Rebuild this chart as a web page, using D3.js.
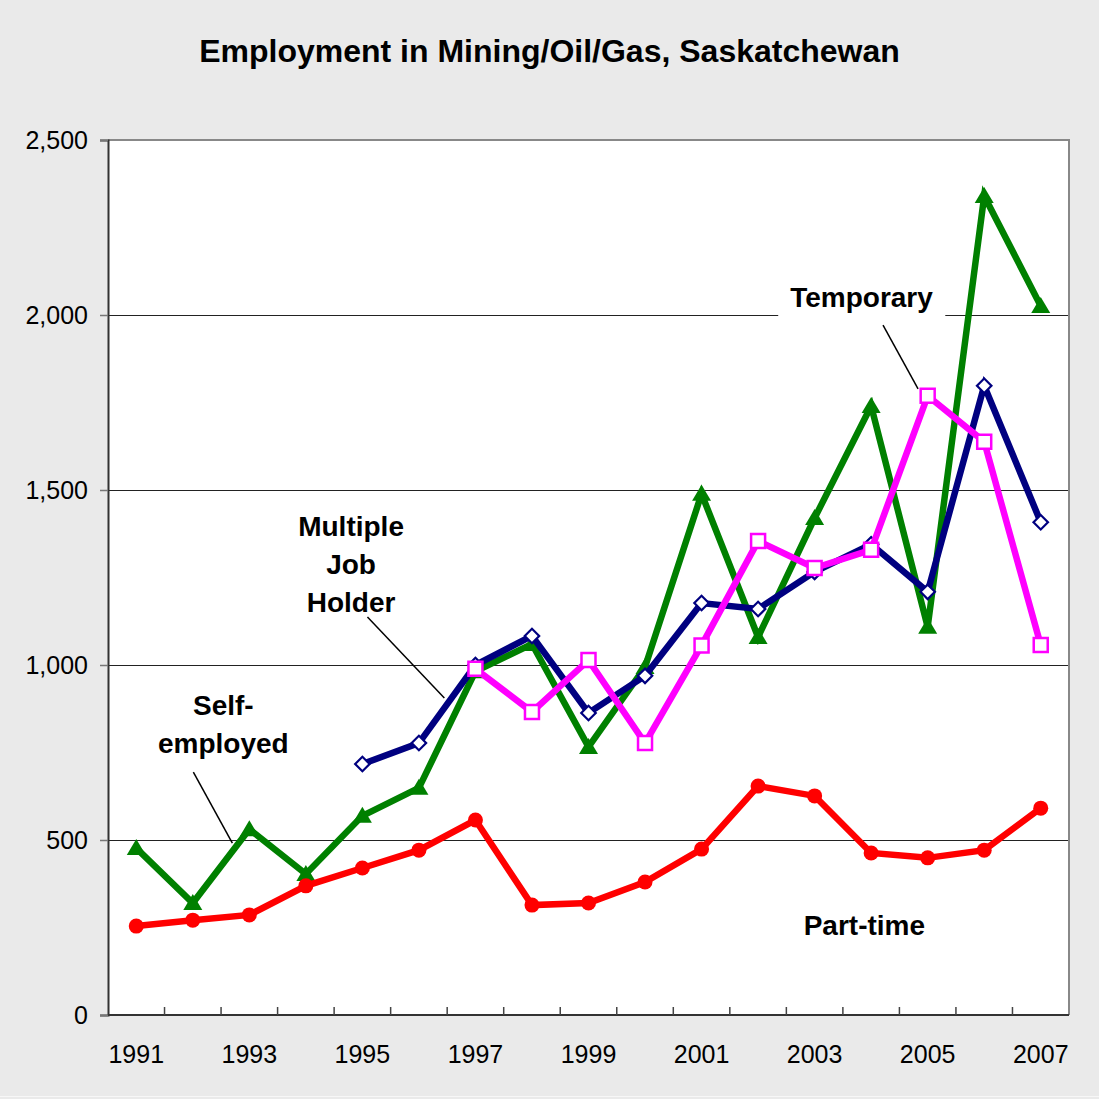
<!DOCTYPE html>
<html>
<head>
<meta charset="utf-8">
<script src="https://cdn.jsdelivr.net/npm/d3@7"></script>
<style>
  html, body { margin: 0; padding: 0; background: #eaeaea; }
  svg { display: block; font-family: "Liberation Sans", Arial, sans-serif; }
</style>
</head>
<body>
<div id="chart"></div>
<script>
// Data
const years = ["1991", "1992", "1993", "1994", "1995", "1996", "1997", "1998", "1999",
  "2000", "2001", "2002", "2003", "2004", "2005", "2006", "2007"]
const yTicks = [0, 500, 1000, 1500, 2000, 2500]

const partTime = [254, 271, 286, 369, 420, 471, 557, 314, 320, 380, 474, 654, 626, 463, 449, 471, 591]
const selfEmployed = [477, 320, 531, 403, 569, 649, 982, 1060, 766, 994, 1489, 1080, 1420, 1740, 1109, 2340, 2026]
const multipleJob = [null, null, null, null, 717, 777, 1000, 1083, 863, 969, 1177, 1160, 1266, 1345, 1209, 1798, 1408]
const temporary = [null, null, null, null, null, null, 989, 866, 1014, 777, 1056, 1354, 1277, 1329, 1769, 1638, 1057]

const W = 1099, H = 1099
const margin = { top: 140, right: 30, bottom: 84, left: 108 }
const width = 1069 - margin.left
const height = 1015 - margin.top

const svg = d3.select("#chart")
  .append("svg")
  .attr("width", W)
  .attr("height", H)

svg.append("rect")
  .attr("width", W)
  .attr("height", H)
  .style("fill", "#eaeaea")

svg.append("line")
  .attr("x1", 0).attr("x2", W)
  .attr("y1", H - 2.5).attr("y2", H - 2.5)
  .style("stroke", "#f7f7f7")
  .style("stroke-width", 1)

// Title
svg.append("text")
  .attr("x", W / 2)
  .attr("y", 62)
  .attr("text-anchor", "middle")
  .style("font-size", "32px")
  .style("font-weight", "bold")
  .style("fill", "#000")
  .text("Employment in Mining/Oil/Gas, Saskatchewan")

const g = svg.append("g")
  .attr("transform", `translate(${margin.left},${margin.top})`)

// Plot area
g.append("rect")
  .attr("width", width)
  .attr("height", height)
  .style("fill", "#fff")

const x = d3.scaleBand()
  .domain(years)
  .range([0, width])

const y = d3.scaleLinear()
  .domain([0, 2500])
  .range([height, 0])

// fractional category position, for annotations
const xi = d3.scaleLinear()
  .domain([0, years.length - 1])
  .range([x(years[0]) + x.bandwidth() / 2, x(years[years.length - 1]) + x.bandwidth() / 2])

// Grid lines
g.append("g")
  .selectAll("line")
  .data(yTicks.filter(d => d > 0 && d < 2500))
  .enter()
  .append("line")
  .attr("x1", 0)
  .attr("x2", width)
  .attr("y1", d => y(d) + 0.5)
  .attr("y2", d => y(d) + 0.5)
  .style("stroke", "#222")
  .style("stroke-width", 1)

// Top and right border
g.append("path")
  .attr("d", `M0,0H${width}V${height}`)
  .style("fill", "none")
  .style("stroke", "#888")
  .style("stroke-width", 2)

// Y axis
const yAxis = g.append("g")
  .call(d3.axisLeft(y).tickValues(yTicks).tickSize(8).tickPadding(12).tickFormat(d3.format(",")))
yAxis.select(".domain").style("stroke", "#333").style("stroke-width", 2)
yAxis.selectAll(".tick line").style("stroke", "#777").style("stroke-width", 1.5)
yAxis.selectAll("text")
  .style("font-size", "25px")
  .style("font-family", "'Liberation Sans', Arial, sans-serif")
  .style("fill", "#000")

// X axis
g.append("line")
  .attr("x1", 0).attr("x2", width)
  .attr("y1", height).attr("y2", height)
  .style("stroke", "#333")
  .style("stroke-width", 2)

g.append("g")
  .selectAll("line")
  .data(years.slice(1))
  .enter()
  .append("line")
  .attr("x1", d => x(d))
  .attr("x2", d => x(d))
  .attr("y1", height)
  .attr("y2", height - 8)
  .style("stroke", "#444")
  .style("stroke-width", 1.5)

g.append("g")
  .selectAll("text")
  .data(years.filter((d, i) => i % 2 === 0))
  .enter()
  .append("text")
  .attr("x", d => x(d) + x.bandwidth() / 2)
  .attr("y", height + 48)
  .attr("text-anchor", "middle")
  .style("font-size", "25px")
  .style("fill", "#000")
  .text(d => d)

// Series
const series = [
  { name: "Self-employed", values: selfEmployed, color: "#008000", marker: "triangle" },
  { name: "Multiple Job Holder", values: multipleJob, color: "#000080", marker: "diamond" },
  { name: "Temporary", values: temporary, color: "#ff00ff", marker: "square" },
  { name: "Part-time", values: partTime, color: "#ff0000", marker: "circle" }
]

const line = d3.line()
  .defined(d => d.v != null)
  .x(d => x(d.year) + x.bandwidth() / 2)
  .y(d => y(d.v))

series.forEach(s => {
  const pts = years.map((yr, i) => ({ year: yr, v: s.values[i] }))
  const sg = g.append("g").attr("class", "series")

  sg.append("path")
    .datum(pts)
    .attr("d", line)
    .style("fill", "none")
    .style("stroke", s.color)
    .style("stroke-width", 6.5)
    .style("stroke-linejoin", "miter")

  const marks = sg.selectAll(".mark")
    .data(pts.filter(d => d.v != null))
    .enter()
    .append("path")
    .attr("class", "mark")

  if (s.marker === "triangle") {
    marks.attr("d", "M0,-9L9.5,7L-9.5,7Z")
      .attr("transform", d => `translate(${x(d.year) + x.bandwidth() / 2},${y(d.v)})`)
      .style("fill", s.color)
  } else if (s.marker === "diamond") {
    marks.attr("d", d3.symbol(d3.symbolSquare, 105)())
      .attr("transform", d => `translate(${x(d.year) + x.bandwidth() / 2},${y(d.v)}) rotate(45)`)
      .style("fill", "#fff")
      .style("stroke", s.color)
      .style("stroke-width", 2.2)
  } else if (s.marker === "square") {
    marks.attr("d", d3.symbol(d3.symbolSquare, 196)())
      .attr("transform", d => `translate(${x(d.year) + x.bandwidth() / 2},${y(d.v)})`)
      .style("fill", "#fff")
      .style("stroke", s.color)
      .style("stroke-width", 2.5)
  } else {
    marks.attr("d", d3.symbol(d3.symbolCircle, Math.PI * 7.5 * 7.5)())
      .attr("transform", d => `translate(${x(d.year) + x.bandwidth() / 2},${y(d.v)})`)
      .style("fill", s.color)
  }
})

// Annotations (positions in category index / data value)
const labels = [
  { lines: ["Temporary"], at: [12.83, 2023], box: true },
  { lines: ["Multiple", "Job", "Holder"], at: [3.80, 1369] },
  { lines: ["Self-", "employed"], at: [1.54, 857] },
  { lines: ["Part-time"], at: [12.88, 229] }
]
const leaders = [
  [[13.21, 1971], [13.83, 1789]],
  [[4.09, 1137], [5.45, 906]],
  [[1.01, 694], [1.70, 491]]
]

const ann = g.append("g")

leaders.forEach(l => {
  ann.append("line")
    .attr("x1", xi(l[0][0])).attr("y1", y(l[0][1]))
    .attr("x2", xi(l[1][0])).attr("y2", y(l[1][1]))
    .style("stroke", "#000")
    .style("stroke-width", 1.5)
})

labels.forEach(l => {
  const t = ann.append("text")
    .attr("x", xi(l.at[0]))
    .attr("y", y(l.at[1]))
    .attr("text-anchor", "middle")
    .style("font-size", "28px")
    .style("font-weight", "bold")
    .style("fill", "#000")

  l.lines.forEach((ln, i) => {
    t.append("tspan")
      .attr("x", xi(l.at[0]))
      .attr("dy", i === 0 ? 0 : 38)
      .text(ln)
  })

  if (l.box) {
    const bb = t.node().getBBox()
    ann.insert("rect", () => t.node())
      .attr("x", bb.x - 12)
      .attr("y", bb.y - 4)
      .attr("width", bb.width + 24)
      .attr("height", bb.height + 8)
      .style("fill", "#fff")
  }
})
</script>
</body>
</html>
